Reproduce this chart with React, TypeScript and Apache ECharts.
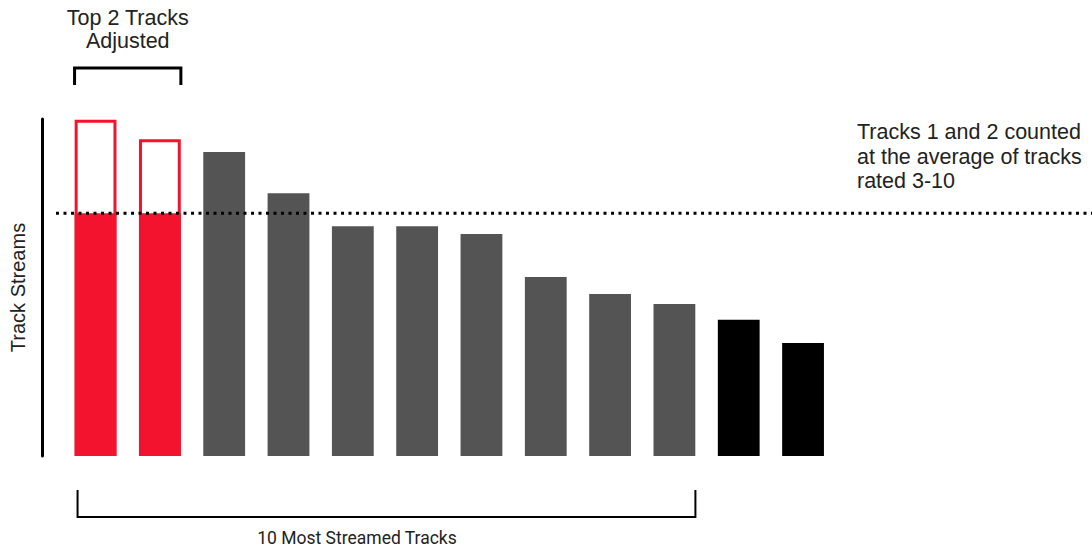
import React, { useEffect, useRef } from "react";
import * as echarts from "echarts";

const categories = ["1", "2", "3", "4", "5", "6", "7", "8", "9", "10", "11", "12"];
const adjustedTotals = [99.8, 94, null, null, null, null, null, null, null, null, null, null];
const streams = [72, 72, 90.2, 78, 68.2, 68.2, 65.9, 53.1, 48.1, 45.1, 40.4, 33.5];
const averageLevel = 72;
const barGroups = ["red", "red", "gray", "gray", "gray", "gray", "gray", "gray", "gray", "gray", "black", "black"];

const RED = "#F3132F";
const GRAY = "#545454";
const BLACK = "#000000";
const groupColor: Record<string, string> = { red: RED, gray: GRAY, black: BLACK };

export default function App() {
  const ref = useRef<HTMLDivElement>(null);
  useEffect(() => {
    if (!ref.current) return;
    const chart = echarts.init(ref.current, null, { renderer: "svg" });
    const font = "'Liberation Sans', Arial, sans-serif";
    chart.setOption({
      animation: false,
      backgroundColor: "#fff",
      grid: { left: 63.4, right: 256.8, top: 119, bottom: 94 },
      xAxis: {
        type: "category",
        data: categories,
        axisLine: { show: false },
        axisTick: { show: false },
        axisLabel: { show: false },
      },
      yAxis: {
        type: "value",
        min: 0,
        max: 100,
        offset: 21,
        name: "Track Streams",
        nameLocation: "middle",
        nameGap: 14,
        nameTextStyle: { fontFamily: font, fontSize: 20, color: "#222" },
        axisLine: { show: true, lineStyle: { color: "#000", width: 3 } },
        axisTick: { show: false },
        axisLabel: { show: false },
        splitLine: { show: false },
      },
      series: [
        {
          type: "bar",
          data: adjustedTotals,
          barCategoryGap: "35%",
          itemStyle: { color: "#fff", borderColor: RED, borderWidth: 3 },
          z: 1,
        },
        {
          type: "bar",
          barGap: "-100%",
          barCategoryGap: "35%",
          data: streams.map((v, i) => ({ value: v, itemStyle: { color: groupColor[barGroups[i]] } })),
          z: 2,
        },
      ],
    });

    const p = (i: number, v: number) => chart.convertToPixel({ seriesIndex: 1 }, [i, v]) as number[];
    const half = 21;
    const avgY = p(0, averageLevel)[1];
    const b1 = p(0, 0)[0];
    const b2 = p(1, 0)[0];
    const b10 = p(9, 0)[0];
    const base = p(0, 0)[1];

    chart.setOption({
      graphic: [
        {
          type: "line",
          shape: { x1: 56, y1: avgY, x2: 1092, y2: avgY },
          style: { stroke: "#000", lineWidth: 3, lineDash: [3, 4.5] },
          z: 10,
        },
        {
          type: "polyline",
          shape: { points: [[b1 - half, 85], [b1 - half, 68], [b2 + half, 68], [b2 + half, 85]] },
          style: { stroke: "#000", lineWidth: 3, fill: null },
        },
        {
          type: "text",
          x: (b1 + b2) / 2,
          y: 6,
          style: {
            text: "Top 2 Tracks\nAdjusted",
            fontFamily: font,
            fontSize: 21.5,
            lineHeight: 23,
            fill: "#222",
            align: "center",
          },
        },
        {
          type: "polyline",
          shape: { points: [[b1 - half + 3, base + 34], [b1 - half + 3, base + 61], [b10 + half, base + 61], [b10 + half, base + 34]] },
          style: { stroke: "#000", lineWidth: 2, fill: null },
        },
        {
          type: "text",
          x: (b1 + b10) / 2 - 28,
          y: 529,
          style: {
            text: "10 Most Streamed Tracks",
            fontFamily: "Roboto, sans-serif",
            fontSize: 17.5,
            fill: "#222",
            align: "center",
          },
        },
        {
          type: "text",
          x: 857,
          y: 120,
          style: {
            text: "Tracks 1 and 2 counted\nat the average of tracks\nrated 3-10",
            fontFamily: font,
            fontSize: 21.5,
            lineHeight: 24.5,
            fill: "#222",
            align: "left",
          },
        },
      ],
    });

    return () => chart.dispose();
  }, []);
  return <div ref={ref} style={{ position: "fixed", left: 0, top: 0, width: 1092, height: 550 }} />;
}
